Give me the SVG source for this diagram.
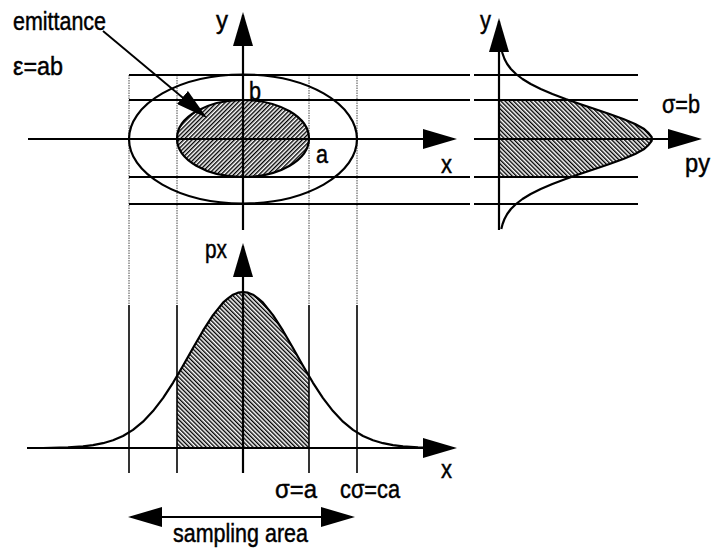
<svg xmlns="http://www.w3.org/2000/svg" width="712" height="553" viewBox="0 0 712 553">
<style>
text{font-family:"Liberation Sans",Arial,sans-serif;font-size:25px;fill:#000;stroke:#000;stroke-width:0.45}
.ax{stroke:#000;stroke-width:2.2;fill:none;marker-end:url(#ah)}
.hl{stroke:#000;stroke-width:1.9;fill:none}
.dot{stroke:#333;stroke-width:0.9;stroke-dasharray:1.5 1;fill:none}
.vl{stroke:#000;stroke-width:1.6;fill:none}
.cv{stroke:#000;stroke-width:2.2;fill:none;stroke-linejoin:round}
</style>
<defs>
<marker id="ah" viewBox="0 0 34 20" markerWidth="34" markerHeight="20" refX="31" refY="10" orient="auto-start-reverse" markerUnits="userSpaceOnUse">
<path d="M0,0 L34,10 L0,20 Z" fill="#000"/>
</marker>
<marker id="ah2" viewBox="0 0 32 17" markerWidth="32" markerHeight="17" refX="29" refY="8.5" orient="auto" markerUnits="userSpaceOnUse">
<path d="M0,0 L32,8.5 L0,17 Z" fill="#000"/>
</marker>
<pattern id="hatchF" width="3" height="3" patternUnits="userSpaceOnUse" patternTransform="rotate(45)">
<line x1="0.7" y1="0" x2="0.7" y2="3" stroke="#000" stroke-width="1.4"/>
</pattern>
<pattern id="hatchB" width="3" height="3" patternUnits="userSpaceOnUse" patternTransform="rotate(-45)">
<line x1="0.7" y1="0" x2="0.7" y2="3" stroke="#000" stroke-width="1.4"/>
</pattern>
</defs>

<g id="grid">
<g id="dotted-verticals">
<line class="dot" x1="129" y1="75" x2="129" y2="305"/>
<line class="dot" x1="177" y1="75" x2="177" y2="305"/>
<line class="dot" x1="309" y1="75" x2="309" y2="305"/>
<line class="dot" x1="357" y1="75" x2="357" y2="305"/>
</g>
<g id="solid-verticals">
<line class="vl" x1="129" y1="305" x2="129" y2="473"/>
<line class="vl" x1="177" y1="305" x2="177" y2="473"/>
<line class="vl" x1="309" y1="305" x2="309" y2="473"/>
<line class="vl" x1="357" y1="305" x2="357" y2="473"/>
</g>
<g id="horizontals">
<line class="hl" x1="129" y1="75" x2="470" y2="75"/>
<line class="hl" x1="129" y1="100" x2="470" y2="100"/>
<line class="hl" x1="129" y1="177" x2="470" y2="177"/>
<line class="hl" x1="129" y1="204" x2="470" y2="204"/>
<line class="hl" x1="474" y1="75" x2="638" y2="75"/>
<line class="hl" x1="474" y1="100" x2="638" y2="100"/>
<line class="hl" x1="474" y1="177" x2="638" y2="177"/>
<line class="hl" x1="474" y1="204" x2="638" y2="204"/>
</g>
</g>

<g id="phase-space">
<ellipse cx="243" cy="139" rx="114" ry="64.5" class="cv"/>
<ellipse cx="243" cy="138.5" rx="66" ry="38.5" fill="url(#hatchF)" stroke="#000" stroke-width="2.2"/>
</g>

<g id="py-profile">
<path d="M499,100 L568.3,100 L579.9,104 L594.8,109 L609.5,114 L623.3,119 L635.1,124 L644.2,129 L650,134 L652,139 L650,144 L644.2,149 L635.1,154 L623.3,159 L609.5,164 L594.8,169 L579.9,174 L571.2,177 L499,177 Z" fill="url(#hatchB)"/>
<path class="cv" d="M502,52 L504.5,59 L507.2,64 L510.9,69 L516,74 L522.5,79 L530.7,84 L540.7,89 L552.4,94 L565.6,99 L579.9,104 L594.8,109 L609.5,114 L623.3,119 L635.1,124 L644.2,129 L648,132.5 L650,135 L651.6,137 L652,139 L651.6,141 L650,143 L648,145.5 L644.2,149 L635.1,154 L623.3,159 L609.5,164 L594.8,169 L579.9,174 L565.6,179 L552.4,184 L540.7,189 L530.7,194 L522.5,199 L516,204 L510.9,209 L507.2,214 L504.5,219 L502.6,224 L501.3,229"/>
</g>

<g id="px-profile">
<path d="M177,448 L177,376.2 L183,365.8 L193,348 L203,330.7 L213,315.1 L223,302.7 L233,294.7 L243,292 L253,294.7 L263,302.7 L273,315.1 L283,330.7 L293,348 L303,365.8 L309,376.2 L309,448 Z" fill="url(#hatchB)"/>
<path class="cv" d="M43,448 L68,447.3 L83,446.4 L93,445.2 L103,443.2 L113,440.3 L123,436 L133,429.9 L143,421.7 L153,411.1 L163,398.1 L173,382.8 L183,365.8 L193,348 L203,330.7 L213,315.1 L223,302.7 L228,298.3 L233,294.7 L238,292.7 L243,292 L248,292.7 L253,294.7 L258,298.3 L263,302.7 L273,315.1 L283,330.7 L293,348 L303,365.8 L313,382.8 L323,398.1 L333,411.1 L343,421.7 L353,429.9 L363,436 L373,440.3 L383,443.2 L393,445.2 L403,446.4 L418,447.3 L443,448"/>
</g>

<g id="connectors">
<line class="ax" x1="243" y1="230" x2="243" y2="15"/>
<line class="ax" x1="499" y1="230" x2="499" y2="21"/>
<line class="ax" x1="243" y1="473" x2="243" y2="246"/>
<line class="ax" x1="28" y1="139" x2="454" y2="139"/>
<line class="ax" x1="474" y1="139" x2="699" y2="139"/>
<line class="ax" x1="27" y1="448" x2="454" y2="448"/>
<line class="ax" x1="131" y1="517" x2="352" y2="517" marker-start="url(#ah)"/>
<line x1="103" y1="31" x2="204.7" y2="116.1" stroke="#000" stroke-width="1.9" marker-end="url(#ah2)"/>
</g>

<g id="labels">
<text x="13" y="30" textLength="93" lengthAdjust="spacingAndGlyphs">emittance</text>
<text x="13" y="75" textLength="50" lengthAdjust="spacingAndGlyphs">ε=ab</text>
<text x="216" y="29" textLength="12" lengthAdjust="spacingAndGlyphs">y</text>
<text x="249" y="100" textLength="12" lengthAdjust="spacingAndGlyphs">b</text>
<text x="316" y="163" textLength="12" lengthAdjust="spacingAndGlyphs">a</text>
<text x="441" y="173" textLength="11" lengthAdjust="spacingAndGlyphs">x</text>
<text x="480" y="29" textLength="11" lengthAdjust="spacingAndGlyphs">y</text>
<text x="662" y="113" textLength="38" lengthAdjust="spacingAndGlyphs">σ=b</text>
<text x="685" y="172" textLength="25" lengthAdjust="spacingAndGlyphs">py</text>
<text x="205" y="258" textLength="22" lengthAdjust="spacingAndGlyphs">px</text>
<text x="441" y="478" textLength="11" lengthAdjust="spacingAndGlyphs">x</text>
<text x="275" y="498" textLength="42" lengthAdjust="spacingAndGlyphs">σ=a</text>
<text x="340" y="498" textLength="60" lengthAdjust="spacingAndGlyphs">cσ=ca</text>
<text x="173" y="542" textLength="135" lengthAdjust="spacingAndGlyphs">sampling area</text>
</g>
</svg>
